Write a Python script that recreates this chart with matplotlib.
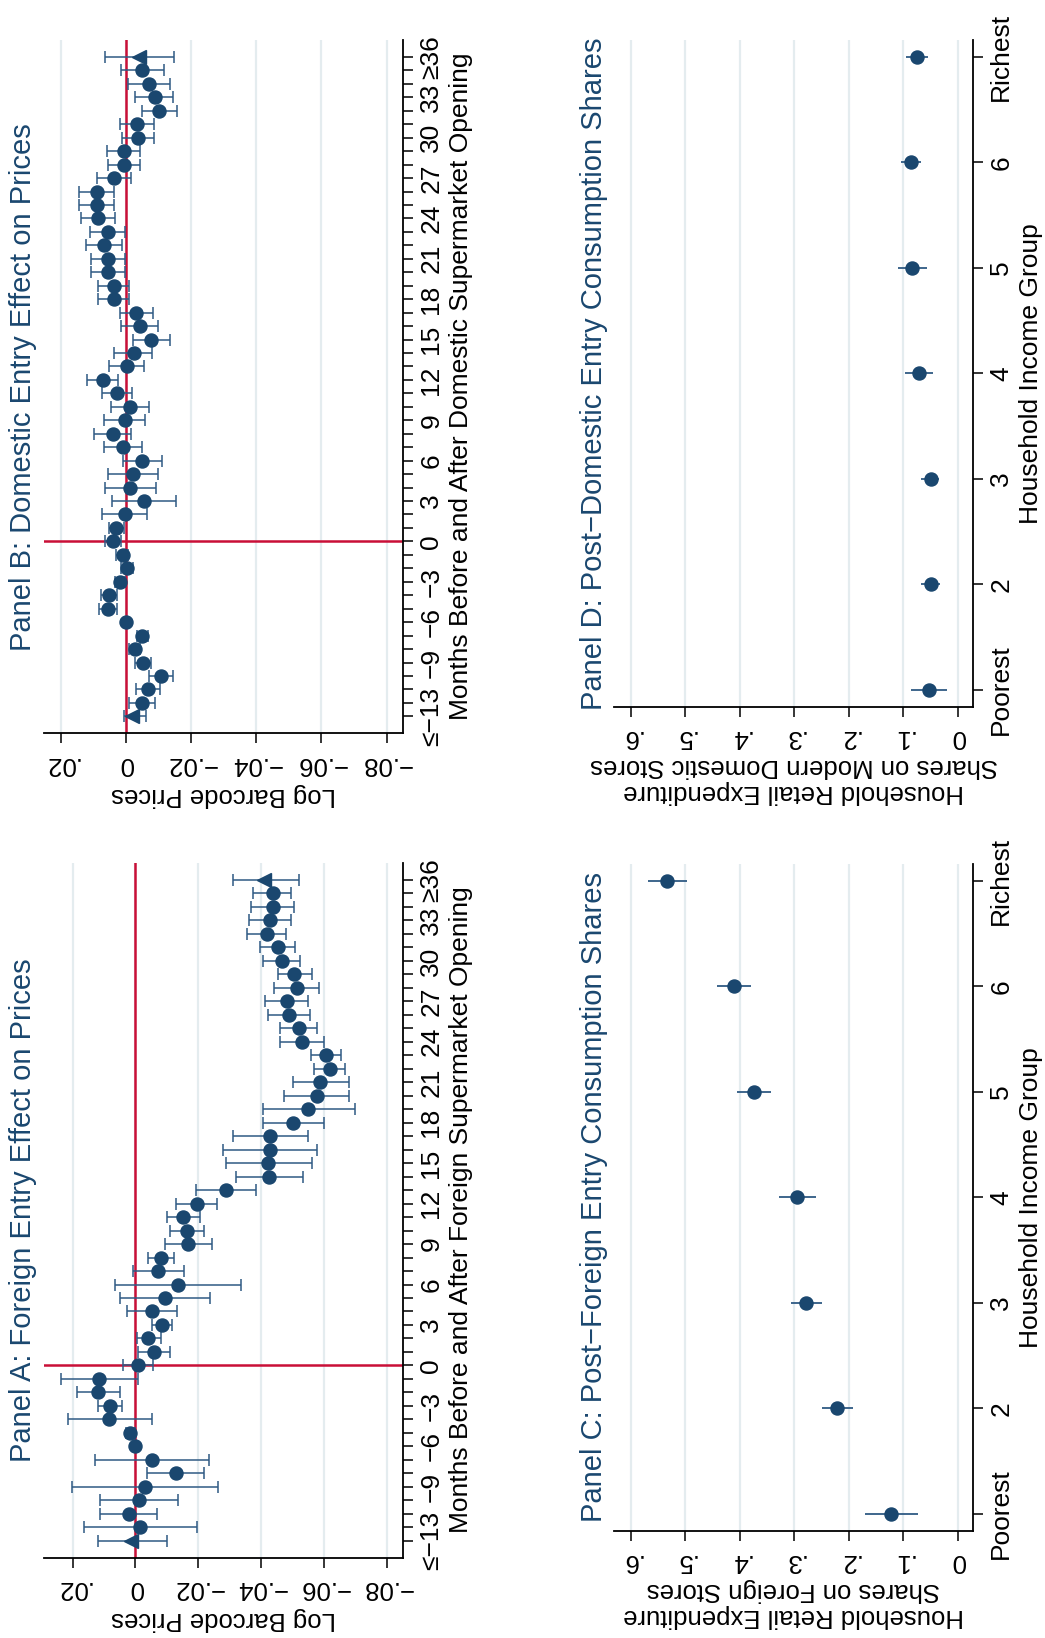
import matplotlib
matplotlib.use("Agg")
import matplotlib.pyplot as plt
import numpy as np

plt.rcParams['font.family'] = ['Liberation Sans', 'DejaVu Sans']

W, H = 1045, 1638

# event-study months (x axis of panels A and B)
months = np.arange(-13, 37)
month_ticks = [-13, -9, -6, -3, 0, 3, 6, 9, 12, 15, 18, 21, 24, 27, 30, 33, 36]
month_labels = ['≤−13', '−9', '−6', '−3', '0', '3', '6', '9', '12', '15', '18',
                '21', '24', '27', '30', '33', '≥36']

price_ticks = [0.02, 0, -0.02, -0.04, -0.06, -0.08]
price_labels = ['.02', '0', '−.02', '−.04', '−.06', '−.08']

# panel A: foreign entry (estimate, upper ci, lower ci)
foreign_est = np.array([0.0013, -0.0016, 0.0021, -0.0012, -0.0029, -0.0128, -0.0053, 0.0000,
                        0.0016, 0.0083, 0.0080, 0.0119, 0.0115, -0.0007, -0.0059, -0.0041,
                        -0.0083, -0.0053, -0.0094, -0.0136, -0.0072, -0.0082, -0.0168, -0.0165,
                        -0.0152, -0.0195, -0.0288, -0.0426, -0.0423, -0.0429, -0.0429, -0.0502,
                        -0.0550, -0.0576, -0.0588, -0.0618, -0.0606, -0.0530, -0.0519, -0.0489,
                        -0.0482, -0.0513, -0.0505, -0.0466, -0.0452, -0.0417, -0.0428, -0.0438,
                        -0.0438, -0.0410])
foreign_hi = np.array([0.0119, 0.0163, 0.0112, 0.0112, 0.0202, -0.0038, 0.0128, 0.0006,
                       0.0030, 0.0215, 0.0119, 0.0186, 0.0237, 0.0039, -0.0009, -0.0005,
                       -0.0053, 0.0027, 0.0048, 0.0066, 0.0007, -0.0039, -0.0094, -0.0110,
                       -0.0099, -0.0130, -0.0194, -0.0319, -0.0287, -0.0280, -0.0311, -0.0407,
                       -0.0405, -0.0473, -0.0500, -0.0569, -0.0559, -0.0461, -0.0461, -0.0423,
                       -0.0412, -0.0441, -0.0452, -0.0407, -0.0395, -0.0356, -0.0362, -0.0369,
                       -0.0374, -0.0311])
foreign_lo = np.array([-0.0101, -0.0197, -0.0067, -0.0135, -0.0261, -0.0218, -0.0234, -0.0006,
                       0.0002, -0.0053, 0.0043, 0.0050, -0.0009, -0.0055, -0.0110, -0.0080,
                       -0.0115, -0.0133, -0.0236, -0.0335, -0.0154, -0.0122, -0.0243, -0.0218,
                       -0.0205, -0.0259, -0.0384, -0.0532, -0.0561, -0.0578, -0.0548, -0.0599,
                       -0.0697, -0.0679, -0.0678, -0.0668, -0.0654, -0.0601, -0.0578, -0.0556,
                       -0.0549, -0.0585, -0.0561, -0.0524, -0.0509, -0.0479, -0.0495, -0.0505,
                       -0.0494, -0.0521])

# panel B: domestic entry
domestic_est = np.array([-0.0018, -0.0051, -0.0068, -0.0108, -0.0054, -0.0027, -0.0051, -0.0001,
                         0.0055, 0.0051, 0.0019, -0.0003, 0.0010, 0.0038, 0.0031, 0.0002,
                         -0.0057, -0.0013, -0.0021, -0.0051, 0.0009, 0.0040, 0.0004, -0.0013,
                         0.0026, 0.0071, -0.0003, -0.0024, -0.0078, -0.0042, -0.0032, 0.0036,
                         0.0036, 0.0056, 0.0056, 0.0066, 0.0056, 0.0086, 0.0089, 0.0089,
                         0.0036, 0.0005, 0.0007, -0.0036, -0.0034, -0.0102, -0.0088, -0.0072,
                         -0.0049, -0.0039])
domestic_hi = np.array([0.0007, -0.0010, -0.0031, -0.0071, -0.0029, -0.0011, -0.0034, 0.0004,
                        0.0081, 0.0077, 0.0033, 0.0015, 0.0030, 0.0063, 0.0051, 0.0072,
                        0.0041, 0.0065, 0.0056, 0.0009, 0.0066, 0.0097, 0.0066, 0.0045,
                        0.0074, 0.0118, 0.0053, 0.0035, -0.0021, 0.0015, 0.0019, 0.0086,
                        0.0086, 0.0107, 0.0107, 0.0122, 0.0109, 0.0138, 0.0144, 0.0144,
                        0.0089, 0.0055, 0.0058, 0.0012, 0.0019, -0.0049, -0.0029, -0.0006,
                        0.0015, 0.0063])
domestic_lo = np.array([-0.0062, -0.0091, -0.0105, -0.0146, -0.0078, -0.0044, -0.0068, -0.0006,
                        0.0028, 0.0026, 0.0002, -0.0021, -0.0008, 0.0014, 0.0007, -0.0066,
                        -0.0154, -0.0093, -0.0100, -0.0112, -0.0051, -0.0016, -0.0060, -0.0072,
                        -0.0019, 0.0023, -0.0057, -0.0080, -0.0134, -0.0100, -0.0082, -0.0011,
                        -0.0011, 0.0002, 0.0002, 0.0012, 0.0002, 0.0033, 0.0037, 0.0037,
                        -0.0016, -0.0044, -0.0044, -0.0085, -0.0085, -0.0157, -0.0146, -0.0136,
                        -0.0116, -0.0149])

# income groups (panels C and D)
groups = np.arange(1, 8)
group_labels = ['Poorest', '2', '3', '4', '5', '6', 'Richest']
share_ticks = [0, 0.1, 0.2, 0.3, 0.4, 0.5, 0.6]
share_labels = ['0', '.1', '.2', '.3', '.4', '.5', '.6']

foreign_share = np.array([0.1224, 0.2209, 0.2784, 0.2943, 0.3738, 0.4099, 0.5328])
foreign_share_hi = np.array([0.1700, 0.2484, 0.3059, 0.3273, 0.4044, 0.4411, 0.5677])
foreign_share_lo = np.array([0.0734, 0.1927, 0.2495, 0.2606, 0.3431, 0.3787, 0.4972])

domestic_share = np.array([0.0521, 0.0495, 0.0495, 0.0704, 0.0832, 0.0862, 0.0752])
domestic_share_hi = np.array([0.0857, 0.0673, 0.0673, 0.0961, 0.1100, 0.1046, 0.0949])
domestic_share_lo = np.array([0.0190, 0.0325, 0.0349, 0.0448, 0.0569, 0.0668, 0.0550])

NAVY = '#1a476f'
BAR = '#2f5a84'
RED = '#c90f37'
GRID = '#e4ecef'

fig = plt.figure(figsize=(W / 100, H / 100), dpi=100)


def px_axes(x0, y0, x1, y1):
    return fig.add_axes([x0 / W, 1 - y1 / H, (x1 - x0) / W, (y1 - y0) / H])


def px_text(x, y, s, rot, **kw):
    fig.text(x / W, 1 - y / H, s, rotation=rot, rotation_mode='anchor',
             ha='center', va='baseline', **kw)


def style(ax, xticks, xlabels, yticks, ylabels):
    for s in ['top', 'left']:
        ax.spines[s].set_visible(False)
    for s in ['right', 'bottom']:
        ax.spines[s].set_linewidth(1.3)
    ax.yaxis.tick_right()
    ax.set_xticks(xticks)
    ax.set_xticklabels(xlabels, rotation=180, fontsize=18.5)
    ax.set_yticks(yticks)
    ax.set_yticklabels(ylabels, rotation=90, va='center', ha='left', fontsize=19)
    ax.tick_params(which='both', length=7.5, width=1.1, direction='out')
    ax.tick_params(axis='x', pad=6)
    ax.tick_params(axis='y', pad=4)
    ax.grid(axis='x', color=GRID, lw=1.6)
    ax.set_axisbelow(True)


def event_panel(ax, est, hi, lo, xlim):
    ax.set_xlim(xlim)
    ax.set_ylim(-14.26, 37.26)
    style(ax, price_ticks, price_labels, month_ticks, month_labels)
    ax.set_yticks(months, minor=True)
    ax.axvline(0, color=RED, lw=1.8, zorder=1)
    ax.axhline(0, color=RED, lw=1.8, zorder=1)
    ax.errorbar(est, months, xerr=[est - lo, hi - est], fmt='none', ecolor=BAR,
                elinewidth=1.1, capsize=4, capthick=1.1, zorder=2)
    ax.plot(est[1:-1], months[1:-1], 'o', ms=9.4, color=NAVY, zorder=3)
    ax.plot(est[[0, -1]], months[[0, -1]], '<', ms=10, color=NAVY, zorder=3)


def share_panel(ax, est, hi, lo):
    ax.set_xlim(0.6306, -0.0286)
    ax.set_ylim(0.842, 7.158)
    style(ax, share_ticks, share_labels, groups, group_labels)
    ax.errorbar(est, groups, xerr=[est - lo, hi - est], fmt='none', ecolor=BAR,
                elinewidth=1.3, capsize=0, zorder=2)
    ax.plot(est, groups, 'o', ms=9.4, color=NAVY, zorder=3)


axA = px_axes(44.3, 863, 403.3, 1557.7)
event_panel(axA, foreign_est, foreign_hi, foreign_lo, (0.029, -0.0852))
axB = px_axes(44.3, 40, 403.3, 733.3)
event_panel(axB, domestic_est, domestic_hi, domestic_lo, (0.025, -0.0851))
axC = px_axes(614, 864, 973.3, 1530.7)
share_panel(axC, foreign_share, foreign_share_hi, foreign_share_lo)
axD = px_axes(614, 40, 973.3, 706.7)
share_panel(axD, domestic_share, domestic_share_hi, domestic_share_lo)

# titles and axis titles (rotated like the reference page)
px_text(31, 1210, 'Panel A: Foreign Entry Effect on Prices', 90, color=NAVY, fontsize=21)
px_text(468, 1210, 'Months Before and After Foreign Supermarket Opening', 90, fontsize=19)
px_text(223.8, 1611.7, 'Log Barcode Prices', 180, fontsize=18.5)

px_text(31, 386.7, 'Panel B: Domestic Entry Effect on Prices', 90, color=NAVY, fontsize=21)
px_text(468, 386.7, 'Months Before and After Domestic Supermarket Opening', 90, fontsize=19)
px_text(223.8, 787.5, 'Log Barcode Prices', 180, fontsize=18.5)

px_text(602, 1197.3, 'Panel C: Post−Foreign Entry Consumption Shares', 90, color=NAVY, fontsize=21)
px_text(1038, 1197.3, 'Household Income Group', 90, fontsize=19)
px_text(793.7, 1584.5, 'Household Retail Expenditure\nShares on Foreign Stores', 180,
        fontsize=18.5, linespacing=1.1)

px_text(602, 373.3, 'Panel D: Post−Domestic Entry Consumption Shares', 90, color=NAVY, fontsize=21)
px_text(1038, 373.3, 'Household Income Group', 90, fontsize=19)
px_text(793.7, 760.7, 'Household Retail Expenditure\nShares on Modern Domestic Stores', 180,
        fontsize=18.5, linespacing=1.1)

fig.savefig('out.png', dpi=100)
